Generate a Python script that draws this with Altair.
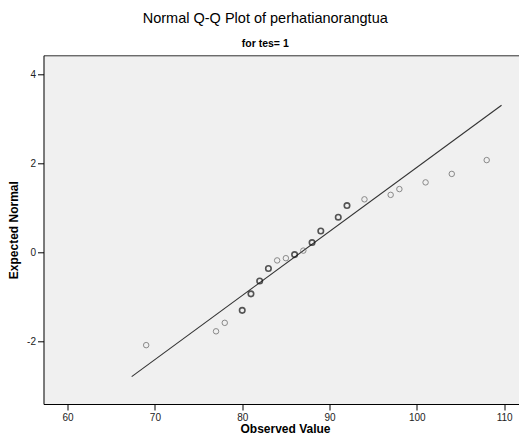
import altair as alt
import pandas as pd

# Data
observed = [69, 77, 78, 80, 81, 82, 83, 84, 85, 86, 87, 88, 89, 91, 92, 94, 97, 98, 101, 104, 108]
expected = [-2.08, -1.77, -1.58, -1.30, -0.93, -0.64, -0.36, -0.18, -0.13, -0.05, 0.04,
            0.22, 0.48, 0.79, 1.05, 1.19, 1.29, 1.42, 1.57, 1.76, 2.07]
repeats = [1, 1, 1, 2, 2, 2, 2, 1, 1, 2, 1, 2, 2, 2, 2, 1, 1, 1, 1, 1, 1]

line_x = [67.34, 109.7]
line_y = [-2.785, 3.30]

x_ticks = [60, 70, 80, 90, 100, 110]
y_ticks = [-2, 0, 2, 4]
x_domain = [57.24, 111.7]
y_domain = [-3.40, 4.42]

FONT = "Liberation Sans"

pts = pd.DataFrame({"obs": observed, "exp": expected,
                    "kind": ["multi" if r > 1 else "single" for r in repeats]})
ln = pd.DataFrame({"obs": line_x, "exp": line_y})

xscale = alt.Scale(domain=x_domain, nice=False, zero=False)
yscale = alt.Scale(domain=y_domain, nice=False, zero=False)

W, H = 475.5, 348.7

points = alt.Chart(pts).mark_point(shape="circle", filled=False, size=30).encode(
    x=alt.X("obs:Q", scale=xscale,
            axis=alt.Axis(orient="bottom", values=x_ticks, title="Observed Value", grid=False,
                          domainColor="#000", domainWidth=1, tickColor="#000",
                          tickSize=6, labelPadding=2, labelFontSize=10, labelColor="#222",
                          labelFont=FONT, titleFont=FONT, titleFontSize=12,
                          titleFontWeight="bold", titleColor="#000",
                          titleBaseline="alphabetic", titleY=28, titleX=241.5)),
    y=alt.Y("exp:Q", scale=yscale,
            axis=alt.Axis(values=y_ticks, title="Expected Normal", grid=False,
                          labelExpr="'' + datum.value",
                          domainColor="#000", domainWidth=1, tickColor="#000",
                          tickSize=6, labelPadding=2, labelFontSize=10, labelColor="#222",
                          labelFont=FONT, titleFont=FONT, titleFontSize=12,
                          titleFontWeight="bold", titleColor="#000", titleAngle=-90,
                          titleBaseline="middle", titleX=-30.2, titleY=H / 2)),
    stroke=alt.Stroke("kind:N", scale=alt.Scale(domain=["single", "multi"],
                                                range=["#5e5e5e", "#111111"]), legend=None),
    strokeWidth=alt.StrokeWidth("kind:N", scale=alt.Scale(domain=["single", "multi"],
                                                          range=[1.0, 1.6]), legend=None),
)

line = alt.Chart(ln).mark_line(color="#333333", strokeWidth=1.1).encode(
    x=alt.X("obs:Q", scale=xscale,
            axis=alt.Axis(orient="top", labels=False, ticks=False, grid=False, title="",
                          domainColor="#333", domainWidth=1)),
    y=alt.Y("exp:Q", scale=yscale),
)

chart = alt.layer(line, points).resolve_axis(x="independent").resolve_scale(x="shared").properties(
    width=W, height=H,
    background="white",
    title=alt.TitleParams(
        text="Normal Q-Q Plot of perhatianorangtua",
        subtitle="for tes= 1",
        font=FONT, fontSize=14.5, fontWeight="normal", color="#000",
        subtitleFont=FONT, subtitleFontSize=10.5, subtitleFontWeight="bold",
        subtitleColor="#000", subtitlePadding=12,
        anchor="middle", frame="group", dx=-16, offset=5,
    ),
    autosize=alt.AutoSizeParams(type="none"),
    padding={"left": 35.5, "top": 47.3, "right": 0, "bottom": 31},
).configure_view(fill="#F0F0F0", strokeWidth=0)

chart.save("out.html", embed_options={"renderer": "svg", "actions": False})
